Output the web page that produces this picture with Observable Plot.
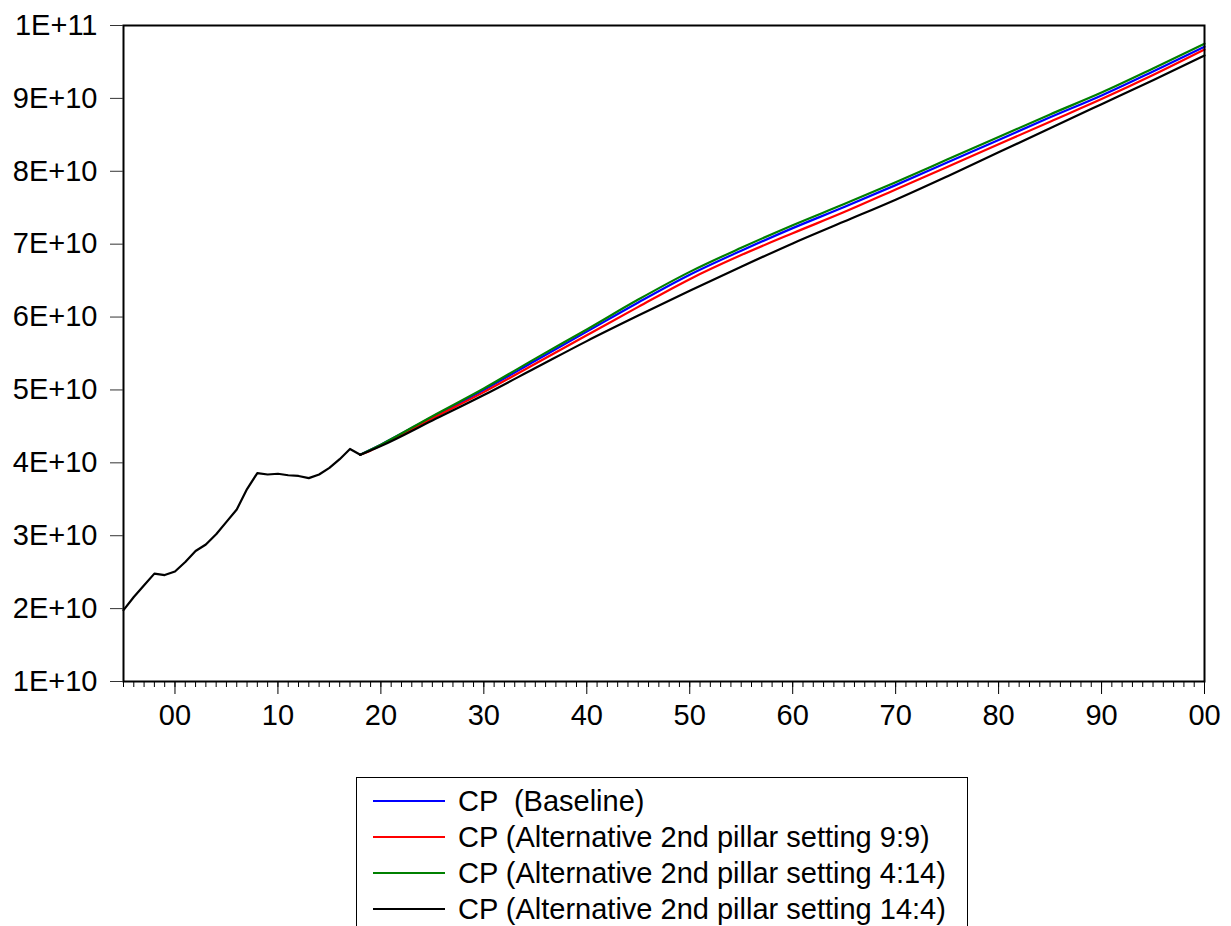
<!DOCTYPE html>
<html>
<head>
<meta charset="utf-8">
<script src="https://cdn.jsdelivr.net/npm/d3@7"></script>
<script src="https://cdn.jsdelivr.net/npm/@observablehq/plot@0.6"></script>
<style>
  html, body { margin: 0; padding: 0; background: #fff; }
  body { width: 1231px; height: 926px; overflow: hidden; position: relative; font-family: Arial, "Liberation Sans", sans-serif; }
  #legend { position: absolute; left: 356px; top: 777px; width: 610px; border: 1.5px solid #000; padding: 5px 0 4px 0; background: #fff; }
  .row { display: flex; align-items: center; height: 36px; font-size: 29px; white-space: pre; color: #000; }
  .sw { width: 72px; height: 2px; margin-left: 16px; margin-right: 13px; }
</style>
</head>
<body>
<div id="chart"></div>
<div id="legend"></div>
<script>
// Historical (shared) years and values
const historyYears = [1995,1996,1997,1998,1999,2000,2001,2002,2003,2004,2005,2006,2007,2008,2009,2010,2011,2012,2013,2014,2015,2016,2017,2018];
const historyValues = [1.98e10,2.16e10,2.32e10,2.48e10,2.46e10,2.51e10,2.64e10,2.79e10,2.88e10,3.02e10,3.19e10,3.36e10,3.64e10,3.86e10,3.84e10,3.85e10,3.83e10,3.82e10,3.79e10,3.84e10,3.93e10,4.05e10,4.19e10,4.11e10];

// Projection years and scenario values
const projYears = [2019,2020,2025,2030,2035,2040,2045,2050,2055,2060,2065,2070,2075,2080,2085,2090,2095,2100];
const baseline = [4.18e10,4.25e10,4.63e10,5.00e10,5.40e10,5.80e10,6.20e10,6.58e10,6.91e10,7.22e10,7.51e10,7.81e10,8.12e10,8.43e10,8.74e10,9.04e10,9.37e10,9.71e10];
const alt9_9  = [4.17e10,4.24e10,4.61e10,4.97e10,5.36e10,5.75e10,6.14e10,6.52e10,6.85e10,7.15e10,7.44e10,7.75e10,8.06e10,8.37e10,8.68e10,8.99e10,9.32e10,9.67e10];
const alt4_14 = [4.18e10,4.25e10,4.64e10,5.02e10,5.43e10,5.83e10,6.24e10,6.62e10,6.95e10,7.26e10,7.55e10,7.85e10,8.16e10,8.47e10,8.78e10,9.08e10,9.41e10,9.75e10];
const alt14_4 = [4.17e10,4.23e10,4.58e10,4.93e10,5.30e10,5.67e10,6.02e10,6.36e10,6.69e10,7.01e10,7.31e10,7.61e10,7.93e10,8.26e10,8.59e10,8.92e10,9.25e10,9.59e10];

const seriesNames = ["CP  (Baseline)", "CP (Alternative 2nd pillar setting 9:9)", "CP (Alternative 2nd pillar setting 4:14)", "CP (Alternative 2nd pillar setting 14:4)"];
const seriesColors = ["#0000ff", "#ff0000", "#008000", "#000000"];
const seriesValues = [baseline, alt9_9, alt4_14, alt14_4];

const yTicks = [1e10,2e10,3e10,4e10,5e10,6e10,7e10,8e10,9e10,1e11];
const xMajorTicks = [2000,2010,2020,2030,2040,2050,2060,2070,2080,2090,2100];
const xMinorTicks = d3.range(1995, 2101);

const lastHist = historyYears.length - 1;
const historyRows = historyYears.map((y, k) => ({year: y, value: historyValues[k]}));
function buildProjection(i) {
  const rows = [{year: historyYears[lastHist], value: historyValues[lastHist]}];
  projYears.forEach((y, k) => rows.push({year: y, value: seriesValues[i][k]}));
  return rows;
}

const yFmt = d => {
  const exp = Math.floor(Math.log10(d) + 1e-9);
  const m = Math.round(d / Math.pow(10, exp));
  return `${m}E+${exp}`;
};
const xFmt = d => String(d % 100).padStart(2, "0");

const lineMarks = seriesNames.map((name, i) =>
  Plot.line(buildProjection(i), {x: "year", y: "value", stroke: seriesColors[i], strokeWidth: 2.2, curve: "monotone-x"})
);

const chart = Plot.plot({
  width: 1231,
  height: 740,
  marginLeft: 123,
  marginRight: 27,
  marginTop: 25,
  marginBottom: 59,
  style: {fontSize: "28px", fontFamily: 'Arial, "Liberation Sans", sans-serif', color: "#000", background: "#fff"},
  x: {domain: [1995, 2100]},
  y: {domain: [1e10, 1e11]},
  marks: [
    ...lineMarks,
    Plot.line(historyRows, {x: "year", y: "value", stroke: seriesColors[3], strokeWidth: 2.2}),
    Plot.frame({stroke: "#000", strokeWidth: 2}),
    Plot.axisY(yTicks, {tickSize: 13, tickPadding: 13, tickFormat: yFmt, label: null, stroke: "#333", fontSize: 29}),
    Plot.axisX(xMinorTicks, {tickSize: 6, tickFormat: () => "", label: null}),
    Plot.axisX(xMajorTicks, {tickSize: 13, tickPadding: 10, tickFormat: xFmt, label: null, fontSize: 29})
  ]
});
document.getElementById("chart").appendChild(chart);

const legend = document.getElementById("legend");
seriesNames.forEach((name, i) => {
  const row = document.createElement("div");
  row.className = "row";
  const sw = document.createElement("div");
  sw.className = "sw";
  sw.style.background = seriesColors[i];
  const t = document.createElement("span");
  t.textContent = name;
  row.appendChild(sw);
  row.appendChild(t);
  legend.appendChild(row);
});
</script>
</body>
</html>
